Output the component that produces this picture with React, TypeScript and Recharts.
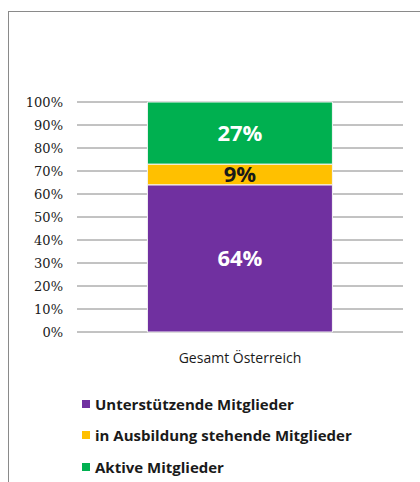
import { BarChart, Bar, XAxis, YAxis, CartesianGrid, Legend, LabelList } from 'recharts';

const categories = ['Gesamt Österreich'];
const unterstuetzend = [64];
const inAusbildung = [9];
const aktiv = [27];
const yTicks = [0, 10, 20, 30, 40, 50, 60, 70, 80, 90, 100];

const seriesInfo = [
  { key: 'unterstuetzend', name: 'Unterstützende Mitglieder', color: '#7030A0', labelColor: '#ffffff' },
  { key: 'inAusbildung', name: 'in Ausbildung stehende Mitglieder', color: '#FFC000', labelColor: '#1a1a1a' },
  { key: 'aktiv', name: 'Aktive Mitglieder', color: '#00B050', labelColor: '#ffffff' },
];

const data = categories.map((name, i) => ({
  name,
  unterstuetzend: unterstuetzend[i],
  inAusbildung: inAusbildung[i],
  aktiv: aktiv[i],
}));

function LegendBox() {
  return (
    <div style={{ fontFamily: '"Open Sans", Lato, sans-serif', fontWeight: 700, fontSize: 15, color: '#1a1a1a' }}>
      {seriesInfo.map((s) => (
        <div key={s.key} style={{ display: 'flex', alignItems: 'center', height: 31.5, whiteSpace: 'nowrap' }}>
          <span style={{ width: 8, height: 8, background: s.color, marginRight: 5, display: 'inline-block' }} />
          <span>{s.name}</span>
        </div>
      ))}
    </div>
  );
}

export default function App() {
  return (
    <div style={{ position: 'relative', width: 420, height: 482, overflow: 'hidden' }}>
      <style>{'html,body{margin:0;overflow:hidden;background:#fff}'}</style>
      {/* frame of the embedded chart: only top and left edges are visible */}
      <div
        style={{
          position: 'absolute',
          left: 8,
          top: 11,
          width: 412,
          height: 471,
          boxSizing: 'border-box',
          borderTop: '1px solid #8a8a8a',
          borderLeft: '1px solid #8a8a8a',
        }}
      />
      <div style={{ position: 'absolute', left: 0, top: 0 }}>
        <BarChart
          width={420}
          height={482}
          data={data}
          margin={{ top: 102, right: 17, left: 0, bottom: 120 }}
          barCategoryGap="21.6%"
        >
          <CartesianGrid horizontal vertical={false} stroke="#868686" />
          <XAxis
            dataKey="name"
            axisLine={false}
            tickLine={false}
            tickMargin={15}
            tick={{ fontFamily: '"Open Sans", Lato, sans-serif', fontSize: 14, fill: '#1a1a1a' }}
          />
          <YAxis
            width={77}
            domain={[0, 100]}
            ticks={yTicks}
            interval={0}
            axisLine={false}
            tickLine={false}
            tickMargin={8}
            tickFormatter={(v) => `${v}%`}
            tick={{ fontFamily: '"DejaVu Serif", serif', fontSize: 13, fill: '#1a1a1a' }}
          />
          <Legend
            layout="vertical"
            align="center"
            verticalAlign="middle"
            content={() => <LegendBox />}
            wrapperStyle={{ top: 388, left: 82, width: 'auto' }}
          />
          {seriesInfo.map((s) => (
            <Bar
              key={s.key}
              dataKey={s.key}
              name={s.name}
              stackId="a"
              fill={s.color}
              stroke="#f4f4f4"
              strokeWidth={1}
              isAnimationActive={false}
            >
              <LabelList
                dataKey={s.key}
                position="center"
                formatter={(v: any) => `${v}%`}
                style={{ fontFamily: '"Open Sans", Lato, sans-serif', fontWeight: 700, fontSize: 22, fill: s.labelColor }}
              />
            </Bar>
          ))}
        </BarChart>
      </div>
    </div>
  );
}
